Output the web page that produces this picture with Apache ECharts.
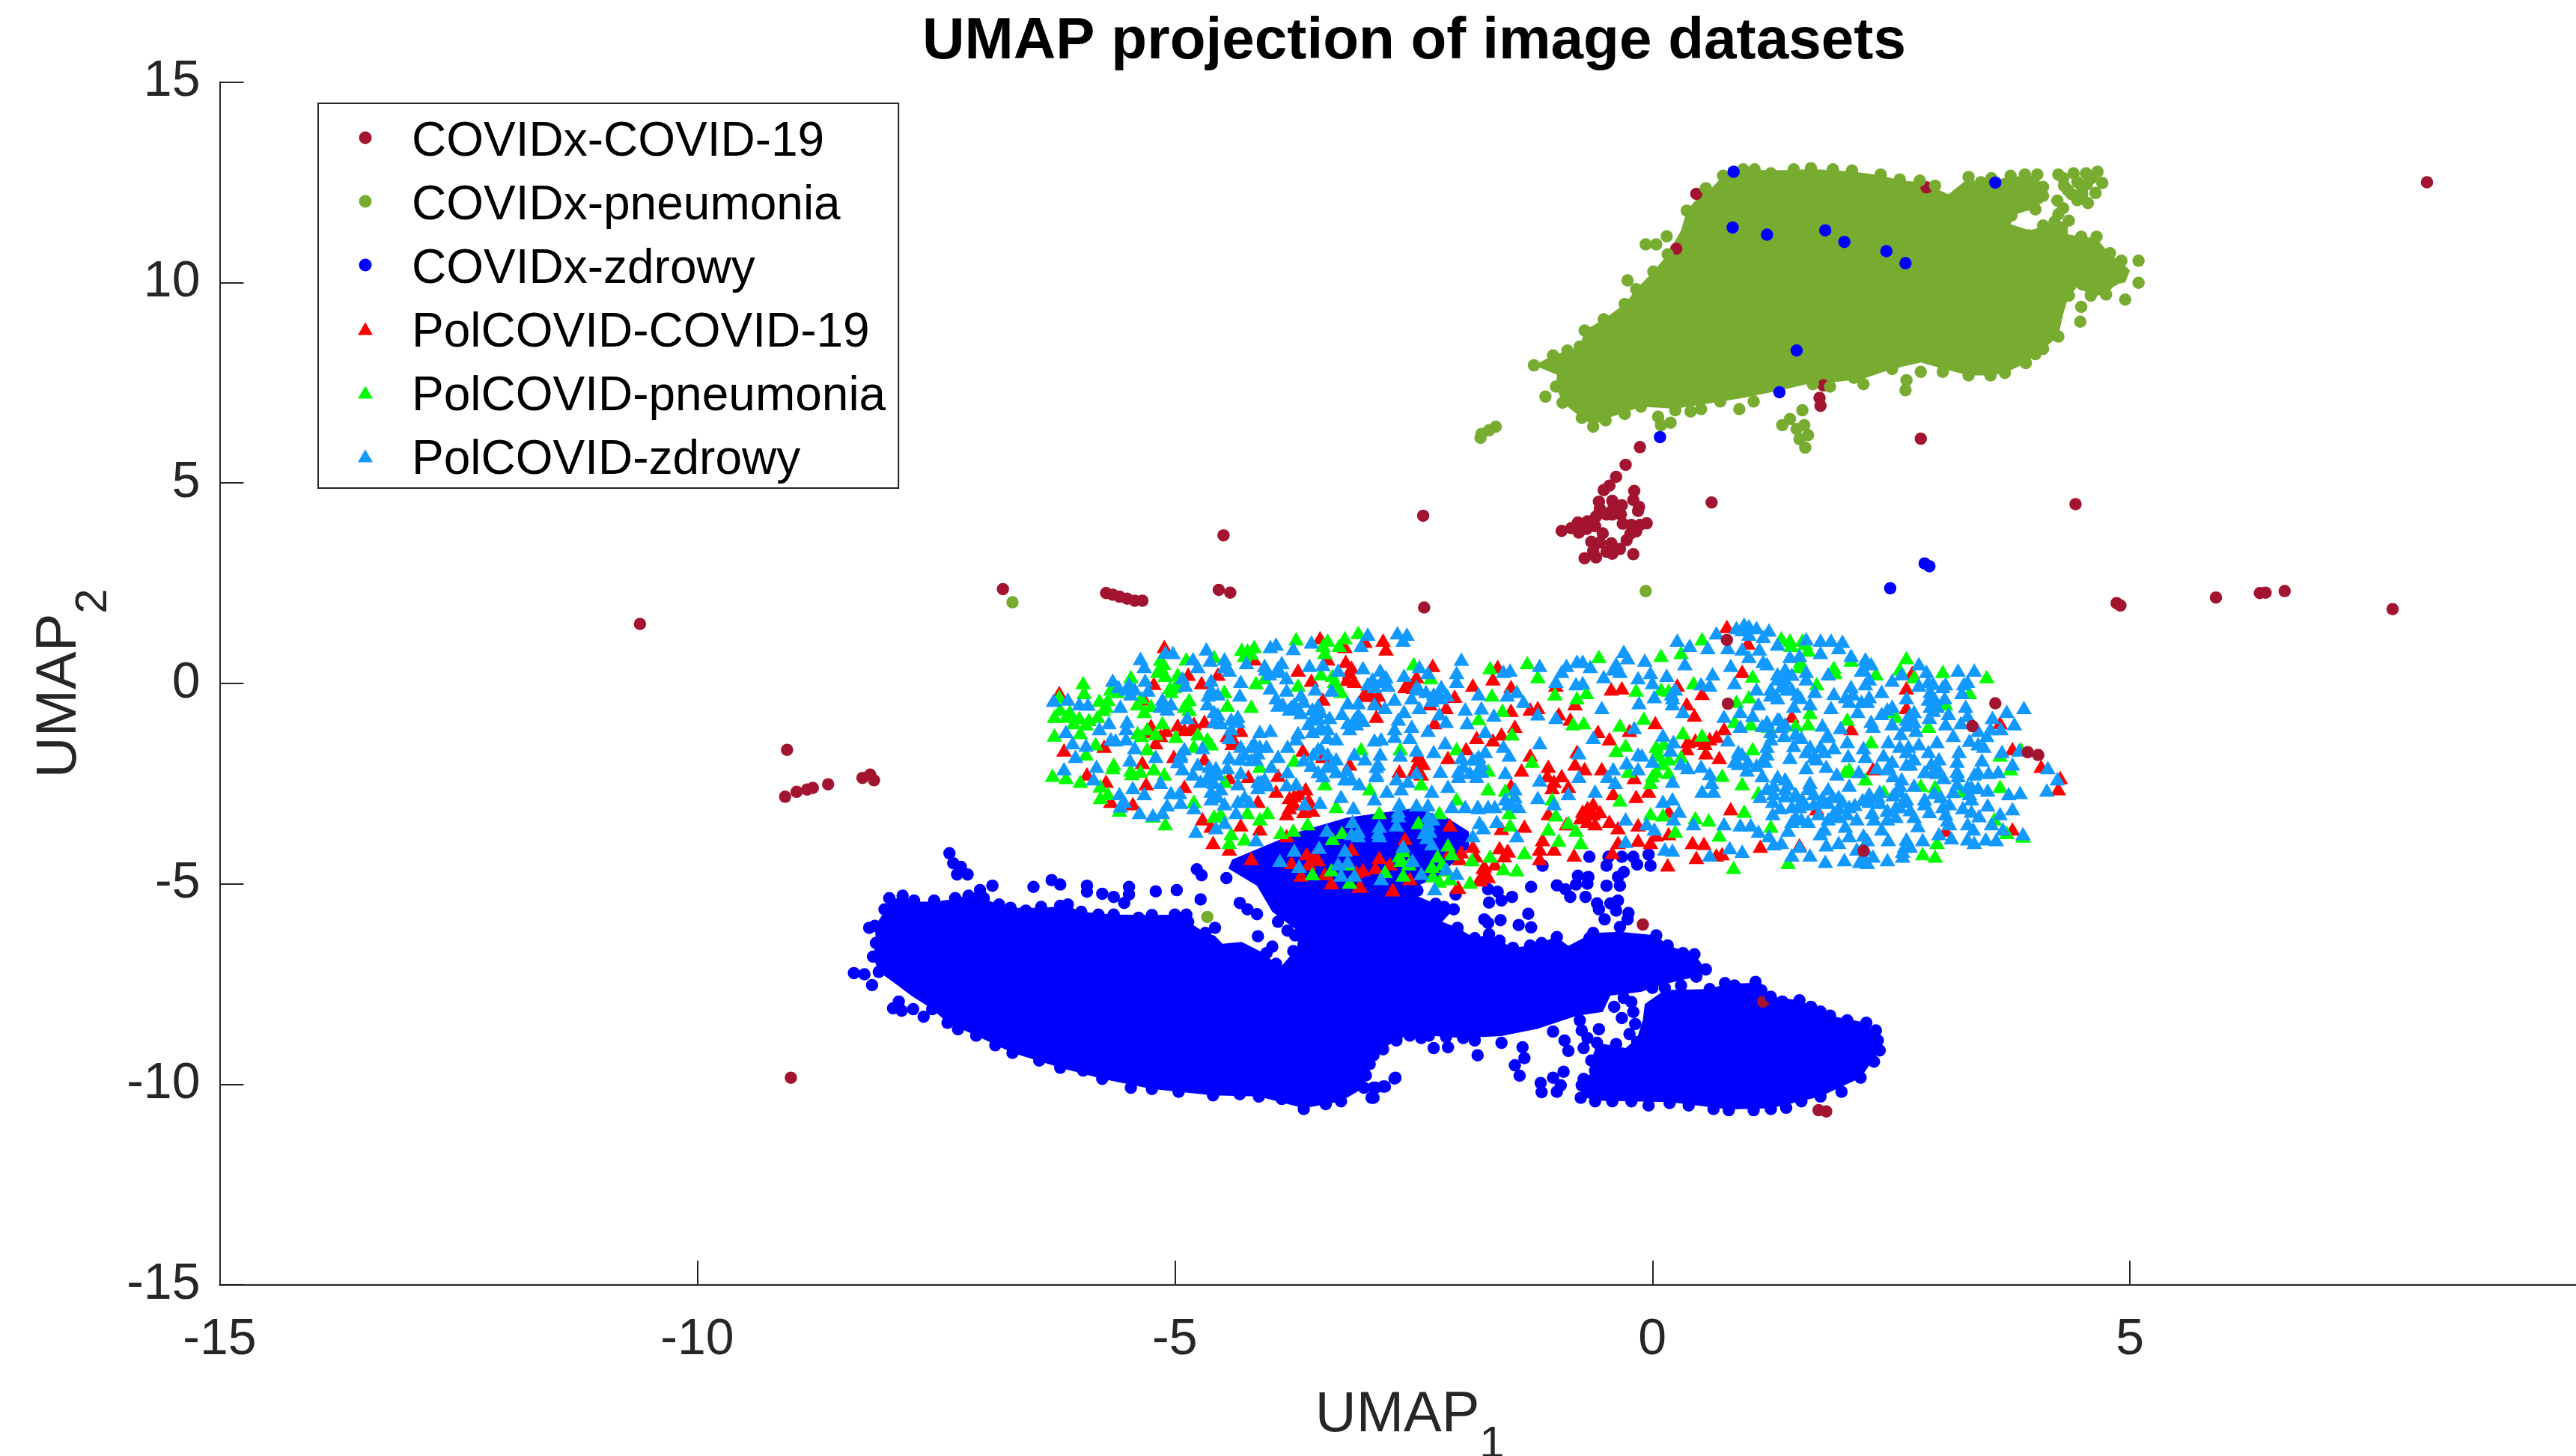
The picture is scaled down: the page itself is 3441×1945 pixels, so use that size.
<!DOCTYPE html>
<html>
<head>
<meta charset="utf-8">
<title>UMAP projection of image datasets</title>
<script src="https://cdn.jsdelivr.net/npm/echarts@6/dist/echarts.min.js"></script>
<style>
html,body{margin:0;padding:0;background:#fff;}
#main{width:3441px;height:1945px;}
</style>
</head>
<body>
<div id="main"></div>
<script>
var legendNames = ['COVIDx-COVID-19', 'COVIDx-pneumonia', 'COVIDx-zdrowy', 'PolCOVID-COVID-19', 'PolCOVID-pneumonia', 'PolCOVID-zdrowy'];
var xTicks = [-15, -10, -5, 0, 5];
var yTicks = [-15, -10, -5, 0, 5, 10, 15];

// maroon points that sit behind the other groups
var covidxCovid = [[.46,12.21],[2.87,12.37],[.25,10.84],[1.79,7.43],[1.75,7.12],[1.76,6.92],[1.16,-7.94]];
// maroon points that are visible on top
var covidxCovidTop = [[8.11,12.5],[2.81,6.1],[-.13,5.89],[-.28,5.45],[-.38,5.15],[-.45,4.93],[-.51,4.82],[-.56,4.53],[-.55,4.35],[-.42,4.55],[-.42,4.32],[-.32,4.44],[-.33,4.21],[-.19,4.8],[-.2,4.57],[-.14,4.4],[-.15,4.3],[-.59,4.16],[-.48,4.21],[-.42,4.21],[-.95,3.8],[-.85,3.87],[-.78,4.01],[-.77,3.92],[-.77,3.76],[-.68,4.04],[-.69,3.85],[-.6,3.92],[-.52,3.74],[-.31,3.98],[-.22,3.95],[-.13,3.95],[-.06,3.99],[-.17,3.79],[-.23,3.73],[-.27,3.57],[-.64,3.53],[-.55,3.51],[-.62,3.3],[-.71,3.12],[-.59,3.14],[-.43,3.49],[-.48,3.28],[-.42,3.23],[-.34,3.35],[-.2,3.22],
[-6.8,2.35],[-5.72,2.25],[-5.65,2.21],[-5.58,2.16],[-5.5,2.11],[-5.42,2.06],[-5.34,2.06],[-4.54,2.33],[-4.42,2.26],[-4.49,3.69],[-2.4,4.18],[-2.39,1.89],[-10.6,1.48],[-9.06,-1.66],[-9.08,-2.83],[-8.96,-2.71],[-8.85,-2.65],[-8.79,-2.61],[-8.63,-2.52],[-8.27,-2.36],[-8.19,-2.28],[-8.15,-2.42],[-9.02,-9.84],[.62,4.51],[4.43,4.47],[4.86,2],[4.9,1.94],[5.9,2.14],[6.36,2.25],[6.42,2.26],[6.62,2.3],[7.75,1.85],[-.1,-6.02],[1.74,-10.65],[1.82,-10.68],[.79,-.51],[3.59,-.5],[4.04,-1.79],[3.93,-1.72],[3.35,-1.07],[.78,1.08],[2.21,-4.18]];

// solid interiors of the over-plotted clouds, read as outlines
var greenCore = [[.6,12.3],[.74,12.66],[.95,12.8],[1.48,12.8],[1.66,12.83],[2.09,12.77],[2.39,12.67],[2.59,12.55],[2.8,12.5],[2.96,12.35],[3.1,12.2],[3.31,12.6],[3.44,12.48],[3.75,12.64],[4.03,12.67],[4.09,12.3],[4.09,12],[3.95,11.8],[3.8,11.7],[3.75,11.45],[3.95,11.3],[4.1,11.4],[4.2,11.55],[4.35,11.5],[4.35,11.2],[4.49,11.14],[4.65,11.1],[4.79,10.7],[4.91,10.5],[5,10.3],[4.95,10],[4.85,9.95],[4.75,9.7],[4.6,9.65],[4.45,9.9],[4.35,9.6],[4.3,9.2],[4.25,8.65],[4.09,8.34],[3.91,7.99],[3.69,7.74],[3.54,7.68],[3.31,7.68],[3.04,7.85],[2.81,8],[2.51,7.84],[2.21,7.6],[1.86,7.5],[1.68,7.5],[1.33,7.3],[.91,7.1],[.51,6.95],[.24,6.85],[-.12,6.9],[-.29,6.75],[-.49,6.6],[-.62,6.42],[-.74,6.62],[-.94,7],[-1.01,7.4],[-1,7.7],[-1.24,7.93],[-1.04,8.18],[-.76,8.4],[-.71,8.8],[-.51,9.08],[-.29,9.46],[-.17,9.83],[.01,10.27],[.16,10.7],[.3,11.3],[.36,11.79],[.56,12.35]];
var blueCoreLeft = [[-8.14,-6.05],[-8.04,-5.7],[-7.99,-5.4],[-7.85,-5.33],[-7.73,-5.45],[-7.52,-5.45],[-7.3,-5.38],[-7.04,-5.18],[-6.98,-5.4],[-6.72,-5.6],[-6.4,-5.6],[-6.12,-5.55],[-5.98,-5.7],[-5.64,-5.77],[-5.24,-5.78],[-4.88,-5.77],[-4.86,-5.95],[-4.68,-6.23],[-4.58,-6.3],[-4.5,-6.5],[-4.3,-6.45],[-4.08,-6.72],[-3.94,-7],[-3.9,-7.1],[-3.72,-6.6],[-3.7,-6.2],[-3.98,-5.7],[-4.14,-5.05],[-4.44,-4.62],[-4.4,-4.4],[-4.1,-4.1],[-3.7,-3.7],[-3.2,-3.35],[-2.5,-3.12],[-2.15,-3.35],[-1.92,-3.7],[-1.92,-4.1],[-2.25,-4.85],[-2.46,-5.05],[-2.52,-5.25],[-2.27,-5.5],[-2.18,-5.58],[-2.08,-5.64],[-2.2,-5.95],[-2.04,-6.1],[-1.86,-6.36],[-1.71,-6.26],[-1.6,-6.42],[-1.46,-6.6],[-1.28,-6.54],[-1,-6.33],[-.88,-6.55],[-.62,-6.23],[-.34,-6.2],[.04,-6.29],[.16,-6.54],[.44,-6.76],[.56,-7.14],[.46,-7.32],[.13,-7.5],[-.12,-7.7],[-.44,-7.79],[-.52,-8.2],[-.8,-8.3],[-1.2,-8.62],[-1.58,-8.8],[-2,-8.85],[-2.54,-8.75],[-2.82,-9.1],[-2.94,-9.25],[-3,-9.78],[-3.02,-10.09],[-3.26,-10.43],[-3.65,-10.6],[-4.12,-10.31],[-4.6,-10.28],[-5.24,-10.12],[-5.76,-9.87],[-6.2,-9.59],[-6.7,-9.22],[-7.08,-8.79],[-7.38,-8.47],[-7.54,-8.13],[-7.76,-7.79],[-7.95,-7.45],[-8.1,-7.2],[-8.16,-6.82],[-8.13,-6.48]];
var blueCoreRight = [[-.1,-8.4],[-.08,-8],[.13,-7.65],[.6,-7.63],[.76,-7.5],[1.08,-7.47],[1.24,-7.82],[1.54,-7.91],[1.86,-8.29],[2.24,-8.47],[2.36,-8.91],[2.38,-9.16],[2.18,-9.84],[1.76,-10.31],[1.24,-10.6],[.8,-10.63],[.18,-10.45],[-.6,-10.41],[-.75,-10.3],[-.72,-9.87],[-.6,-9.66],[-.64,-9.41],[-.58,-8.97],[-.28,-9.1],[-.16,-8.85]];

var covidxPneumonia = [[.74,12.66],[.95,12.82],[1.07,12.82],[1.24,12.72],[1.48,12.82],[1.66,12.85],[1.89,12.82],[2.09,12.79],[2.39,12.69],[2.59,12.57],[2.8,12.54],[2.96,12.41],[3.31,12.63],[3.44,12.5],[3.55,12.6],[3.75,12.66],[3.9,12.69],[4.03,12.69],[4.09,12.38],[4.09,12.16],[4.25,12.69],[4.31,12.41],[4.41,12.72],[4.54,12.72],[4.66,12.76],[4.71,12.48],[4.64,12.23],[4.56,11.98],[4.39,12.2],[4.24,12.04],[4.36,11.54],[4.21,11.51],[4.09,11.42],[4.01,11.82],[3.76,11.67],[3.79,12.07],[3.64,12.13],[3.64,11.51],[3.94,11.17],[4.49,11.14],[4.65,11.14],[4.79,10.73],[4.91,10.54],[5.09,10.54],[5.09,9.99],[4.95,9.57],[4.75,9.7],[4.59,9.67],[4.49,9.39],[4.48,9.02],[4.36,9.67],[4.25,8.65],[4.09,8.34],[4.01,8.21],[3.91,7.99],[3.69,7.74],[3.54,7.68],[3.31,7.68],[3.04,7.77],[2.81,7.77],[2.66,7.56],[2.65,7.31],[2.51,7.84],[2.21,7.46],[2.11,7.62],[1.86,7.4],[1.68,7.46],[1.06,7.03],[.91,6.84],[.71,7.03],[.51,6.84],[.4,6.78],[.24,6.81],[.06,6.65],[.19,6.5],[.09,6.44],[-.12,6.9],[-.29,6.72],[-.49,6.56],[-.62,6.4],[-.74,6.62],[-.94,7],[-1.12,7.15],[-1.01,7.4],[-1.24,7.93],[-1.04,8.18],[-.89,8.3],[-.76,8.4],[-.71,8.8],[-.51,9.08],[-.29,9.46],[-.26,10.05],[-.17,9.83],[.01,10.27],[.16,10.7],[-.07,10.95],[.04,10.95],[.15,11.15],[.36,11.79],[.56,12.35],[4.75,10.3],[4.82,10.05],[4.7,9.95],[4.9,10.2],[4.5,9.95],[4.3,12.6],[4.45,12.5],[4.55,12.45],[4.6,12.6],[4.5,12.2],[4.35,12.3],[4.5,12.35],[4.45,12.05],[4.25,11.7],[4.3,11.85],
[1.57,6.81],[1.36,6.44],[1.44,6.59],[1.51,6.34],[1.59,6.44],[1.63,6.19],[1.54,6.09],[1.6,5.88],[-1.64,6.4],[-1.71,6.31],[-1.79,6.22],[-1.8,6.12],[-6.7,2.02],[-.07,2.3],[-4.66,-5.83]];

var covidxZdrowy = [[.85,12.76],[3.59,12.49],[.84,11.37],[1.2,11.19],[1.81,11.3],[2.01,11.01],[2.45,10.78],[2.65,10.48],[1.51,8.3],[1.33,7.26],[.08,6.14],[2.85,2.99],[2.9,2.92],[2.49,2.37],
[-7.36,-4.24],[-7.32,-4.49],[-7.24,-4.58],[-7.28,-4.77],[-7.17,-4.77],[-6.91,-5.05],[-6.48,-5.08],[-6.29,-4.91],[-6.2,-5.02],[-5.92,-5.05],[-5.92,-5.2],[-5.76,-5.25],[-5.64,-5.33],[-5.48,-5.08],[-5.48,-5.27],[-5.53,-5.48],[-5.2,-5.19],[-4.98,-5.16],[-4.73,-5.39],[-4.77,-4.64],[-4.72,-4.79],[-4.46,-4.86],[-4.32,-5.48],[-4.24,-5.64],[-4.14,-5.76],[-3.92,-5.95],[-3.82,-6.17],[-3.74,-6.29],[-4.13,-6.31],[-3.98,-6.57],[-4.04,-6.73],[-3.76,-6.68],[-3.94,-7],[-4.58,-6.1],[-4.68,-6.23],
[-8.36,-7.23],[-8.25,-7.26],[-8.17,-7.53],[-8.16,-6.82],[-8.1,-7.2],[-8.2,-6.1],[-8.14,-6.05],[-8.13,-6.48],[-8.04,-5.64],[-7.99,-5.36],[-7.85,-5.3],[-7.96,-5.89],[-7.84,-5.8],[-7.73,-5.42],[-7.52,-5.42],[-7.3,-5.36],[-7.16,-5.3],[-7.04,-5.16],[-7,-5.36],[-6.84,-5.52],[-6.72,-5.6],[-6.56,-5.67],[-6.4,-5.58],[-6.2,-5.55],[-6.12,-5.52],[-5.98,-5.7],[-5.8,-5.77],[-5.64,-5.77],[-5.38,-5.85],[-5.24,-5.78],[-5,-5.77],[-4.88,-5.77],[-4.86,-5.95],
[-7.89,-7.94],[-7.95,-8.11],[-7.86,-8.17],[-7.74,-8.13],[-7.63,-8.32],[-7.54,-8.13],[-7.38,-8.47],[-7.27,-8.63],[-7.08,-8.79],[-6.88,-9.03],[-6.7,-9.22],[-6.42,-9.41],[-6.2,-9.59],[-6.1,-9.5],[-5.96,-9.66],[-5.76,-9.87],[-5.46,-10.09],[-5.24,-10.12],[-4.96,-10.19],[-4.6,-10.28],[-4.32,-10.25],[-4.12,-10.31],[-3.88,-10.37],[-3.65,-10.62],[-3.42,-10.5],[-3.26,-10.43],[-3.02,-10.09],[-2.92,-10.34],[-2.9,-10.09],[-2.8,-10.06],[-2.69,-9.84],[-2.92,-9.28],[-2.96,-9.5],[-3,-9.78],
[-1.15,-4.55],[-1.27,-5.08],[-1,-5.04],[-.91,-5.14],[-.86,-5.33],[-.78,-4.8],[-.67,-4.83],[-.8,-5.02],[-.68,-5],[-.7,-5.33],[-.58,-5.49],[-.56,-5.64],[-.44,-5.49],[-.36,-5.42],[-.34,-5.05],[-.36,-4.83],[-.48,-5.05],[-.66,-4.33],[-.48,-4.55],[-.46,-4.33],[-.32,-4.33],[-.2,-4.33],[-.04,-4.27],[-.02,-4.55],[-.16,-4.52],[-.3,-4.71],[-.38,-5.67],[-.25,-5.73],[-.26,-5.89],[-.5,-5.89],[-.34,-6.08],[-.62,-6.23],[-.66,-6.36],[-.48,-6.39],[-1,-6.33],[-1.16,-6.48],[-1.28,-6.54],[-1.6,-6.42],[-1.46,-6.6],[-1.71,-6.26],[-1.86,-6.36],[-2.04,-6.1],[-2.16,-6.23],[-1.76,-5.89],[-1.72,-5.98],[-1.59,-5.91],[-1.3,-5.75],[-1.4,-6.03],[-1.27,-6.09],[-2.08,-5.64],[-2.18,-5.58],[-2.27,-5.5],[-2.06,-5.27],[-1.72,-5.14],[-1.71,-5.47],[-1.62,-5.2],[-1.58,-5.42],[-1.47,-5.33],[-2.46,-5.17],[-2.52,-5.33],
[.04,-6.29],[.16,-6.54],[.32,-6.73],[.44,-6.76],[.56,-7.14],[.46,-7.32],[.3,-7.54],[.13,-7.6],[.6,-7.63],[.76,-7.48],[.86,-7.54],[1.08,-7.45],[1.14,-7.66],[1.24,-7.82],[1.36,-7.94],[1.54,-7.91],[1.66,-8.07],[1.76,-8.19],[1.86,-8.29],[2.04,-8.41],[2.24,-8.47],[2.34,-8.66],[2.36,-8.91],[2.38,-9.16],[2.32,-9.44],[2.18,-9.84],[1.98,-10.19],[1.76,-10.31],[1.56,-10.43],[1.4,-10.59],[1.24,-10.62],[1.06,-10.65],[.8,-10.65],[.64,-10.62],[.38,-10.53],[.18,-10.47],[-.04,-10.53],[-.22,-10.43],[-.42,-10.43],[-.6,-10.43],[-.75,-10.34],[-.74,-10.03],[-.72,-9.87],[-.93,-9.69],[-1.04,-9.84],[-.96,-10.03],[-1,-10.19],[-1.17,-9.97],[-1.16,-10.2],[-1.39,-9.79],[-1.44,-9.53],[-1.34,-9.35],[-1.36,-9.08],[-1.83,-9.28],[-2.29,-9.1],[-2.14,-9.08],[-2.7,-9.86],[-.88,-9.17],[-.92,-8.91],[-.72,-9.1],[-.56,-8.63],[-1.04,-8.69],[-1.58,-8.97],[-1.86,-8.91],[-1.98,-8.85],[-2.16,-8.82],[-2.34,-8.79],[-2.42,-8.85],[-2.54,-8.79],[-2.68,-8.91],[-2.82,-9.13],[-2.94,-9.28],[-3.02,-9.56],[-2.92,-10.09],[-2.82,-10.06],[-2.94,-10.34],[-.58,-8.97],[-.64,-9.41],[-.6,-9.66],[0,-7.6],[-.4,-8.07],[-.32,-8.35],[-.76,-8.41],[-.74,-8.66],[-.68,-8.85],[-.3,-7.85],[.5,-7.94],[.62,-8.13],[-.22,-7.95],[-.2,-8.2],[-.18,-8.5],[-.24,-8.75],[-.38,-9],[-.16,-8.95]];

var polCovid = [[-6.21,-.23],[-6.16,-1.66],[-5.32,-.39],[-5.22,0],[-5.11,.92],[-4.86,.23],[-4.72,.02],[-4.55,.23],[-4.17,.61],[-3.48,1.14],[-3.22,.92],[-3.01,1.05],[-2.82,1.08],[-2.79,.86],[-3.21,.55],[-3.17,.27],[-3.4,.61],[-3.71,.33],[-3.57,.08],[-3.12,.05],[-3.01,-.23],[-2.87,-.29],[-2.89,-.82],[-3.45,-.39],[-2.59,-.08],[-2.47,.17],[-2.3,.45],[-2.07,-.32],[-1.88,-.04],[-1.67,.11],[-1.62,.42],[-1.48,-.08],[-1.48,-.67],[-2.16,-.6],[-2.33,-.51],[-2.28,-.98],[-1.44,-1.07],[-1.28,-.64],[-1.58,-1.26],[-1.67,-1.41],[-1.84,-1.35],[-1.95,-1.63],[-2.14,-1.85],[-2.45,-1.94],[-2.47,-2.07],[-2.42,-2.26],[-2.65,-2.19],[-1.37,-2.16],[-1.28,-1.79],[-1.48,-2.54],[-3.75,-3],[-3.63,-2.63],[-3.8,-2.85],[-3.94,-2.69],[-3.56,-3.16],[-3.83,-3.25],[-4.13,-2.94],[-4.23,-2.32],[-4.43,-2.35],[-3.92,-2.29],[-3.17,-2.01],[-3.45,-1.82],[-3.66,-1.66],[-4.31,-1.17],[-4.39,-1.38],[-4.69,-.95],[-4.83,-1.13],[-4.97,-1.04],[-5.09,-1.17],[-5.2,-1.48],[-5.29,-1.2],[-4.69,-1.88],[-5.01,-1.82],[-5.34,-1.97],[-5.74,-1.57],[-5.92,-2.26],[-5.72,-2.44],[-5.3,-2.5],[-4.9,-2.57],[-5.67,-2.94],[-5.44,-3],[-4.71,-3.38],[-4.62,-3.56],[-4.31,-3.53],[-4.11,-3.63],[-4.6,-3.97],[-4.43,-4.13],[-3.83,-3.8],[-4.2,-4.37],[-3.78,-4.47],[-3.62,-4.25],[-3.55,-4.31],[-3.68,-4.78],[-3.43,-4.75],[-3.36,-4.97],[-3.15,-4.13],[-3.03,-4.65],[-3.07,-5.06],[-2.86,-4.34],[-2.72,-5.15],[-2.54,-4.87],[-2.59,-3.87],[-2.12,-3.53],[-2.12,-4.19],[-1.88,-4.06],[-2.02,-4.37],[-2.03,-5.09],[-1.79,-4.82],[-1.72,-4.82],[-1.77,-4.59],[-1.51,-4.18],[-1.34,-3.56],[-1.58,-3.62],
[.78,1.42],[1,1.01],[.94,.3],[.26,-.04],[.52,-.25],[-.43,-.14],[-.32,-.11],[-1.01,-.04],[-.81,-.51],[.36,-.51],[.44,-.79],[-1.2,-.6],[-.98,-.76],[-.86,-.89],[-.57,-1.2],[-.45,-1.38],[-.24,-1.17],[.03,-.98],[.75,-1.13],[.67,-1.32],[.6,-1.38],[.45,-1.41],[.37,-1.45],[.36,-1.63],[.56,-1.73],[.7,-1.85],[-.79,-1.7],[-.81,-2.01],[-.71,-2.13],[-1.09,-2.07],[-.53,-2.13],[-.19,-2.35],[-1.03,-2.44],[-.88,-2.57],[-.41,-2.75],[-.17,-2.82],[-.04,-2.69],[-.68,-3.1],[-.73,-3.19],[-.62,-3.25],[-.68,-3.44],[-.45,-3.44],[-1.09,-3.25],[.17,-3.19],[-.15,-3.53],[-.36,-3.6],[.17,-3.75],[.04,-3.78],[-.15,-3.91],[-.02,-3.97],[-.36,-3.97],[.42,-3.97],[.54,-3.99],[.46,-4.34],[.67,-4.28],[.73,-4.25],[.16,-4.53],[-.42,-4.22],[-.82,-4.28],[-1.03,-4.13],[-1.18,-4.13],[-1.18,-4.37],[1.13,-4.06],[1.54,-4.03],[.82,-3.13],[2.31,-2.13],[2.08,-1.13],[1.46,-.82],[2.66,-.11],[2.66,-.6],[2.72,.27],[3.64,-.98],[3.77,-1.63],[4.25,-2.63],[4.27,-2.35],[4.07,-2.07],[3.77,-3.63],[1.72,-3.13],[3.07,-3.66],[-1.8,-4.83],[-1.76,-4.55],[-2.04,-5.08],[-2.72,-5.14],[-1.52,-4.18],[-3.06,-5.05],
[-2.45,-1.8],[-2.4,-2],[-2.5,-2.2],[-3.7,-2.75],[-3.75,-2.8],[-3.6,-2.9],[-3.8,-3.1],[-3.65,-3.2],[-3,-.3],[-2.95,-.25],[-2.9,-.45],[-3.15,.4],[-3.2,.1],[-2.55,0],[-2.5,-.1],[-4.4,-1.5],[-4.45,-1.3],[-4.8,-1],[-4.9,-1.15],[-5.25,-1.05],[-5.15,-1.3],[-1.75,-4.7],[-1.8,-4.9],[-1.65,-4.5],[-1.55,-4.3],[-2.75,-4.5],[-2.9,-4.6],[-3.5,-4.4],[-3.6,-4.5],[-1.85,-4.3],[-2,-4.2],[-1.6,-4.1],[-3.1,-4.7],[-.62,-3],[-.75,-3.35],[-.6,-3.5],[-.55,-3.2],[-1.05,-2.6],[-.95,-2.3],[-1.1,-2.3],[-.9,-3.5],[.55,-1.5],[.5,-1.42],[-1.15,-3.9]];

var polPneumonia = [[-5.96,.02],[-6.21,-.32],[-6.2,-.64],[-6.26,-.82],[-6.14,-.82],[-6.06,-.98],[-5.93,-1.01],[-6.26,-1.29],[-5.99,-1.23],[-5.93,-1.76],[-5.83,-1.51],[-6.28,-2.29],[-6.14,-2.35],[-5.99,-2.44],[-5.79,-.42],[-5.72,-.57],[-5.81,-.82],[-5.67,-.14],[-5.46,.17],[-5.95,-.23],[-5.39,-.51],[-5.32,-.7],[-5.39,-1.23],[-5.29,-1.13],[-5.13,-.98],[-5.29,-1.63],[-4.99,-1.32],[-4.76,-1.26],[-4.66,-1.38],[-4.62,-1.51],[-4.8,-1.57],[-4.9,-.57],[-5.15,.42],[-5.15,.6],[-5.18,.3],[-5,-.08],[-5.04,-.2],[-4.97,.23],[-4.88,.61],[-4.59,.67],[-4.17,.92],[-4.24,.83],[-4.27,.7],[-4.15,.02],[-4.06,.14],[-4.48,-.2],[-4.45,-.54],[-4.2,-.57],[-3.71,-.04],[-3.73,1.11],[-3.4,1.08],[-3.28,.95],[-3.22,1.14],[-3.08,1.27],[-3.43,.77],[-3.26,-.2],[-3.33,.05],[-3.47,.24],[-2.5,.49],[-2.32,.14],[-1.7,.39],[-1.31,.52],[-1.68,-.29],[-1.57,-.67],[-1.82,-.88],[-1.47,-1.26],[-2.05,-1.63],[-2.64,-1.63],[-3.05,-1.63],[-3.75,-1.92],[-4.11,-2.07],[-5.22,-2.13],[-5.64,-2.01],[-5.46,-2.16],[-5.36,-2.19],[-5.11,-2.26],[-5.78,-2.56],[-5.78,-2.85],[-5.58,-3.16],[-5.23,-3.31],[-5.1,-3.5],[-4.8,-2.94],[-4.48,-2.44],[-4.52,-3.25],[-4.59,-3.31],[-4.24,-3.22],[-4.11,-3.38],[-4.03,-3.22],[-4.41,-3.75],[-4.43,-3.97],[-4.27,-3.88],[-3.89,-3.72],[-3.76,-3.66],[-3.61,-3.5],[-3.43,-2.5],[-3.31,-3.07],[-2.86,-3.22],[-2.96,-2.63],[-2.42,-2.5],[-2.45,-3.47],[-2.23,-3.22],[-3.35,-3.87],[-3.25,-3.72],[-3.56,-4.75],[-3.36,-4.65],[-3.19,-4.5],[-3.17,-4.96],[-2.8,-4.69],[-2.61,-4.17],[-2.63,-4.41],[-2.61,-4.78],[-2.25,-4.31],[-2.31,-4.56],[-2.14,-4.03],[-2.1,-4.25],[-2.23,-4.93],[-2.12,-4.87],[-1.91,-4.96],[-1.89,-4.4],[-1.7,-4.31],[-1.56,-4.62],[-1.42,-4.65],[-1.34,-4.22],[-1.49,-3.53],[-1.54,-2.66],[-1.72,-2.63],[-1.72,-2.16],[-1.26,-1.94],[-2.05,-2.88],[-1.5,-3.22],
[-.56,.67],[.09,.7],[-1.2,.17],[-.69,-.23],[-.79,-.36],[-1.02,-.26],[-.17,-.17],[.09,-.14],[.17,-.17],[.43,.02],[.3,.77],[.52,1.11],[.88,-.45],[1.05,.18],[1.01,-.33],[1.35,1.14],[1.44,1.08],[1.57,1.08],[1.63,.83],[1.54,.42],[1.91,.27],[2.08,.58],[1.72,-.01],[2.34,.24],[2.66,.64],[2.59,.36],[2.74,.17],[3.04,.3],[3.5,.17],[3.32,-.23],[3.07,-.51],[2.89,-1.07],[2.55,-.82],[2.46,-.7],[2.04,-.89],[1.65,-.73],[1.5,-1.04],[1.63,-1.01],[1.03,-1.01],[.86,-.95],[-.34,-1.04],[-.09,-.87],[-.83,-1.01],[-.72,-.98],[.52,-1.29],[.32,-1.23],[-.38,-1.67],[-.28,-1.54],[.04,-1.57],[.06,-1.79],[.3,-1.82],[.17,-1.88],[.04,-2.19],[.17,-2.22],[-.02,-2.47],[.73,-2.29],[.94,-2.5],[-.25,-2.19],[-.34,-2.91],[-1.05,-2.88],[-1.01,-3.28],[-.02,-3.25],[.11,-3.28],[.45,-3.35],[.59,-3.41],[-.88,-3.47],[-.8,-3.66],[-1.09,-3.63],[-.98,-3.91],[-.75,-3.97],[.24,-3.69],[.7,-3.78],[.85,-4.59],[.96,-3.19],[1.24,-3.56],[1.11,-2.72],[1.05,-1.63],[1.22,-1.07],[2.06,-2.13],[2.23,-2.38],[2.29,-1.45],[2.42,-2.69],[2.81,-2.54],[2.96,-2.57],[3.24,-2.69],[3.64,-2.57],[3.75,-2.13],[3.86,-1.63],[3.64,-1.79],[3.58,-3.38],[3.71,-3.72],[3.88,-3.81],[2.98,-3.97],[2.83,-4.25],[2.96,-4.31],[1.42,-4.47],[2.02,-2.19],
[-6.1,-.7],[-6,-.85],[-5.9,-.9],[-5.75,-.65],[-5.7,-.4],[-5.6,-.2],[-5.35,-.35],[-5.25,-.55],[-5.2,-1.25],[-5.35,-1.3],[-5.12,.5],[-5.1,.2],[-4.95,.05],[-4.85,-.4],[-4.85,-.65],[-5.05,-.1],[-4.3,.85],[-4.2,.75],[-5.65,-2.1],[-5.7,-2.75],[-5.45,-2.25],[-3.3,-.05],[-3.35,.2],[-3.45,.95],[-2.65,-4.3],[-2.55,-4.5],[-2.2,-4.5],[-2.15,-4.65],[-2.3,-4.8],[.05,-1.7],[.1,-2],[0,-2.3],[.12,-1.5],[1.6,1],[1.55,.55],[1.9,.4],[1.45,.95]];

var polZdrowy = [[-6.27,-.42],[-6.12,-.39],[-6,-.51],[-5.91,-.52],[-5.65,.08],[-5.51,-.14],[-5.42,-.14],[-5.57,-.57],[-5.31,.08],[-5.28,-.17],[-5.36,.62],[-5.32,.42],[-5.1,.78],[-5.02,.77],[-4.92,.14],[-4.89,-.04],[-5.13,-.39],[-5.15,-.57],[-5.04,-.51],[-4.81,.61],[-4.76,.42],[-4.67,.86],[-4.63,.58],[-4.48,.61],[-4.43,.33],[-4.62,.08],[-4.65,-.29],[-4.55,-.26],[-4.31,.05],[-4.25,.52],[-4.32,-.29],[-4,.92],[-3.94,.98],[-3.76,.87],[-4.05,.36],[-3.88,.52],[-3.92,.3],[-3.83,.14],[-4,-.11],[-3.83,-.17],[-3.94,-.36],[-3.68,-.29],[-3.53,-.14],[-3.36,-.17],[-3.57,1.03],[-2.98,1.23],[-2.67,1.26],[-2.57,1.23],[-3.05,.95],[-2.61,1.08],[-3.45,.47],[-3.59,.45],[-3.29,.33],[-3.03,.39],[-2.85,.33],[-2.84,.05],[-2.98,-.01],[-2.6,.2],[-2.44,.42],[-2.35,.27],[-2.05,.27],[-2,.6],[-2.05,.05],[-2.47,-.08],[-2.21,-.08],[-2.29,-.26],[-1.82,-.26],[-2.7,-.39],[-2.52,-.36],[-2.31,-.42],[-2.15,-.29],[-1.56,.3],[-1.49,.33],[-1.42,-.2],[-1.52,-.29],[-1.35,-.45],[-1.96,-.64],[-1.79,-.61],[-1.66,-.79],[-3.08,-.48],[-2.91,-.51],[-2.8,-.6],[-3.19,-.48],[-3.5,-.54],[-3.78,-.57],[-3.92,-.54],[-3.71,-.64],[-3.5,-.85],[-3.38,-.85],[-3.12,-.89],[-3.03,-.92],[-3.17,-1.13],[-2.66,-.89],[-2.44,-.6],[-2.52,-1.07],[-2.35,-1.17],[-2.23,-.76],[-2.16,-.95],[-1.94,-.98],[-2.7,-1.13],[-2.84,-1.38],[-2.91,-1.41],[-2.54,-1.35],[-2.7,-1.32],[-2.17,-1.48],[-2.29,-1.7],[-2.47,-1.66],[-2.64,-1.79],[-1.56,-1.57],[-1.5,-1.79],[-1.75,-1.2],[-2,-1.85],[-1.75,-1.7],[-1.84,-1.88],[-1.79,-2.01],[-3.12,-1.76],[-3.01,-1.88],[-2.85,-1.76],[-2.87,-2.01],[-3.31,-1.38],[-3.4,-1.35],[-3.48,-1.13],[-3.71,-1.23],[-4,-1.17],[-4.11,-1.2],[-4.34,-.82],[-4.59,-.7],[-4.52,-.98],[-4.41,-1.13],[-4.87,-.85],[-5.5,-.95],[-5.51,-1.13],[-5.69,-.98],[-5.79,-1.13],[-6.14,-1.2],[-6.07,-1.48],[-5.93,-1.54],[-5.62,-1.41],[-5.51,-1.38],[-5.42,-1.6],[-6.04,-1.82],[-6.16,-2.13],[-5.82,-2.07],[-5.47,-1.91],[-5.2,-1.82],[-4.94,-1.76],[-4.92,-2.13],[-4.71,-1.6],[-4.43,-1.85],[-4.32,-1.88],[-4.31,-1.57],[-4.17,-1.48],[-4.13,-1.73],[-4.04,-1.57],[-3.92,-1.82],[-3.82,-1.57],[-3.73,-1.38],[-3.55,-1.76],[-3.47,-1.63],[-3.36,-2.01],[-3.57,-2.04],[-3.82,-2.2],[-3.99,-2.07],[-4.31,-2.22],[-4.45,-2.1],[-4.64,-2.07],[-4.57,-2.1],[-4.76,-2.01],[-4.81,-2.26],[-4.65,-2.38],[-5.15,-2.47],[-5.04,-2.72],[-4.95,-2.72],[-5.44,-2.6],[-5.32,-2.75],[-5.58,-2.75],[-5.53,-2.94],[-5.85,-2.38],[-5.57,-3.06],[-5.37,-3.22],[-5.23,-3.28],[-5.13,-3.22],[-5.08,-3.03],[-4.94,-2.97],[-4.8,-3.1],[-4.78,-3.69],[-4.57,-3.6],[-4.48,-3.47],[-4.62,-2.88],[-4.48,-3],[-4.52,-2.63],[-4.34,-2.5],[-4.36,-3.22],[-4.34,-2.94],[-4.22,-2.94],[-4.13,-2.44],[-4.03,-2.53],[-3.83,-2.53],[-3.73,-2.5],[-3.48,-2.97],[-3.64,-3],[-3.26,-2.82],[-3.13,-3.1],[-3.22,-2.38],[-3.15,-2.38],[-2.89,-2.3],[-3.07,-2.5],[-2.78,-2.69],[-2.63,-2.63],[-2.68,-2.38],[-2.56,-2.44],[-2.47,-2.22],[-2.22,-2.19],[-2.14,-2.57],[-2.03,-2.19],[-1.91,-2.22],[-1.82,-2.13],[-1.44,-2.63],[-1.54,-2.88],[-1.54,-2.22],[-1.83,-3.07],[-1.96,-3.07],[-1.72,-3.07],[-1.47,-3],[-1.4,-3.07],[-2.31,-2.69],[-2.47,-3.03],[-2.35,-3.03],[-2.1,-3.07],[-2.65,-3],[-2.91,-2.88],
[-3.14,-3.44],[-2.86,-3.56],[-2.66,-3.19],[-2.68,-3.53],[-2.35,-3.5],[-2.3,-3.38],[-2.86,-3.8],[-3.08,-3.8],[-3.15,-3.75],[-3.41,-3.66],[-3.75,-4.16],[-3.49,-4.09],[-3.22,-4.16],[-3.9,-4.41],[-3.7,-4.56],[-3.29,-4.5],[-3.19,-4.44],[-3.26,-4.78],[-2.84,-4.87],[-3.12,-4.78],[-2.51,-4.41],[-2.61,-4.06],[-2.31,-4],[-2.42,-4.74],[-2.16,-4.62],[-2.05,-4.74],[-2.28,-5.12],[-2.39,-3.72],[-1.88,-3.8],[-1.77,-3.6],[-1.63,-3.44],[-1.81,-3.47],[-1.42,-3.8],[-4.15,-3.9],
[-1.18,.45],[-.79,.55],[-.73,.55],[-.65,.42],[-.3,.8],[-.26,.64],[-.39,.42],[-.51,.17],[-1.01,.05],[-.8,-.01],[-.73,.02],[-.08,.58],[.34,.49],[.26,1.08],[.39,.95],[.58,.89],[.67,1.26],[.88,1.39],[.96,1.48],[1.09,1.39],[1.22,1.33],[.79,.89],[1.01,1.23],[1.12,.86],[1.31,.98],[1.61,1.11],[1.76,1.08],[1.87,1.08],[1.99,1.05],[1.95,.89],[2.08,.7],[2.23,.61],[2.29,.49],[2.19,.33],[2.27,.11],[1.84,.24],[1.61,.11],[1.44,.67],[1.54,.7],[1.76,.77],[1.2,.49],[.82,.45],[1.39,.36],[1.31,.11],[1.41,-.14],[1.24,-.14],[1.09,-.14],[.86,.02],[.63,.24],[.6,-.04],[.51,-.01],[.15,.2],[-.02,.27],[-.15,.14],[0,.02],[.02,-.33],[.2,-.26],[.21,-.51],[-.53,-.6],[-.14,-.48],[-1.01,-.85],[-1.2,-.76],[.32,-.7],[.75,-.82],[.92,-.7],[.79,-1.41],[.92,-1.07],[1.11,-.51],[1.2,-.95],[1.33,-.89],[1.35,-1.07],[1.48,-.57],[1.65,-.51],[1.87,-.6],[2.02,-.33],[2.06,-.45],[2.25,-.45],[2.4,-.2],[2.51,.08],[2.61,.24],[2.79,.49],[2.87,.3],[2.79,-.04],[2.94,0],[3.04,-.08],[3.2,.33],[3.37,.33],[3.3,.05],[3.24,-.23],[3.06,-.36],[2.89,-.39],[2.66,-.36],[3.28,-.57],[2.51,-.57],[2.46,-.64],[2.74,-.7],[2.94,-.67],[2.66,-.89],[2.51,-1.01],[2.29,-.95],[2.31,-1.07],[1.97,-1.1],[1.78,-1.04],[1.84,-1.29],[2.76,-1.17],[3.07,-1.01],[3.23,-.98],[3.41,-1.17],[3.54,-1.13],[3.65,-1.13],[3.56,-.85],[3.71,-.7],[3.79,-1.01],[3.89,-.6],[3.32,-1.42],[3.47,-1.57],[3.41,-1.51],[3.66,-1.7],[3.84,-1.66],[3.77,-2.01],[3.45,-1.91],[3.62,-2.2],[3.52,-2.22],[3.37,-2.26],[4.14,-2.1],[4.24,-2.38],[4.13,-2.66],[2.98,-1.45],[2.79,-1.51],[2.68,-1.57],[2.59,-1.57],[2.47,-1.45],[2.42,-1.79],[2.21,-1.6],[2.23,-1.82],[2.04,-1.45],[1.82,-1.32],[1.76,-1.57],[1.72,-1.88],[1.61,-1.7],[1.56,-1.35],[1.24,-1.38],[1.2,-1.76],[1.18,-1.94],[1.44,-1.85],[.9,-1.7],[.86,-1.94],[.99,-2.16],[1.09,-2.04],[1.61,-2.1],[1.82,-2.07],[1.93,-2.26],[2.16,-2.2],[2.47,-2.07],[2.7,-2.01],[2.74,-1.88],[2.98,-2.07],[3.21,-1.7],[3.19,-1.94],[2.98,-2.22],[2.61,-2.38],[2.74,-2.54],[2.59,-2.54],[2.38,-2.69],[2.27,-2.75],[2.06,-2.54],[1.84,-2.63],[1.65,-2.47],[1.31,-2.32],[1.27,-2.54],[1.42,-2.5],[1.5,-2.8],[1.39,-2.8],[1.13,-2.82],[1.69,-2.75],[1.95,-2.82],[2.06,-3.07],[1.84,-2.97],[1.74,-3.25],[1.5,-3.32],[1.54,-3.07],[1.26,-3.25],[2.27,-2.94],[2.38,-2.97],[2.46,-3.16],[2.66,-2.88],[2.59,-3.07],[2.85,-2.88],[3.02,-2.82],[3.11,-3],[3.19,-2.5],[3.3,-2.57],[3.41,-2.6],[3.51,-2.66],[3.34,-2.88],[3.51,-3.03],[3.34,-3.19],[3.64,-3.25],[3.73,-2.75],[3.85,-2.72],[3.77,-3.13],[3.09,-3.41],[3.3,-3.5],[3,-3.75],[3.13,-3.85],[3.37,-3.97],[3.49,-3.88],[3.6,-3.9],[3.67,-3.63],[3.88,-3.75],[2.83,-3.9],[2.64,-4.06],[2.47,-3.9],[2.4,-3.63],[2.74,-3.32],[2.14,-3.38],[2.32,-3.38],[2.21,-3.78],[2.25,-3.9],[2.06,-3.8],[1.95,-3.97],[1.76,-3.75],[1.82,-4.03],[1.65,-4.28],[1.81,-4.44],[2.01,-4.4],[2.25,-4.47],[2.46,-4.4],[2.62,-4.19],[2.17,-4.44],[1.46,-4.28],[1.42,-3.66],[1.56,-3.38],[1.63,-3.44],[1.35,-3.97],[1.27,-4],[1.54,-4.06],[1.22,-3.8],[1.11,-3.69],[1.03,-3.53],[.92,-3.53],[1.26,-2.94],[.75,-3.5],[.43,-3.5],[.22,-3.38],[.28,-3.19],[.21,-2.88],[.11,-2.94],[.64,-2.69],[.52,-2.69],[.62,-2.47],[.6,-2.25],[.51,-2.07],[.37,-2.1],[.3,-2],[.21,-2.44],[-.15,-2.13],[-.27,-1.98],[0,-1.94],[-.11,-1.79],[-.41,-2.13],[-.47,-2.32],[-.39,-2.47],[-.77,-2.32],[-.6,-2.69],[-.88,-2.75],[-1.18,-2.41],[-1.2,-2.85],[-1.03,-3],[-.28,-3.38],[.02,-3.63],[-.06,-3.5],[-.28,-3.94],[.13,-4.13],[.21,-4.16],[.6,-4.28],[.81,-4.1],[.94,-4.19],[.11,-1.29],[.22,-1.45],[.19,-1.66],[-.15,-1.76],[-.77,-1.73],[-.62,-1.35],[-.19,-1.1],[-1.18,-1.48],
[-5.59,-.08],[-5.48,-.01],[-5.46,-.26],[-3.87,-.51],[-3.8,-.64],[-3.75,-.51],[-3.68,-.73],[-3.56,-.64],[-3.47,-.7],[-3.56,-.89],[-3.47,-1.07],[-3.56,-1.2],[-3.4,-1.13],[-2.93,.11],[-2.79,.17],[-2.91,-.08],[-2.77,-.04],[-3.1,-1.01],[-3.08,-.76],[-3.19,-.98],[-2.44,-.14],[-2.37,-.2],[-2.24,-.23],[-2.21,-.36],[-4.2,-1.57],[-4.11,-1.57],[-4.15,-1.88],[-4.27,-1.76],[-3.5,-1.63],[-3.4,-1.76],[-3.31,-1.88],[-3.41,-2.07],[-3.5,-2.2],[-3.31,-2.2],[-2.89,-2.07],[-2.89,-2.26],[-1.88,-1.88],[-1.79,-2.19],[-1.84,-2.32],[-2.03,-2.32],[-1.98,-2.07],[-1.82,-1.82],[-4.64,-2.26],[-4.55,-2.26],[-4.73,-2.44],[-4.59,-2.47],[-4.1,-2.44],[-4.13,-2.6],[-4.06,-2.38],[-4.94,-1.82],[-4.97,-1.95],[-4.9,-1.63],[-4.62,-2.69],[-4.55,-2.82],[-4.27,-2.82],[-1.44,-2.82],[-1.51,-3],[-1.65,-3.07],[-1.82,-3.1],[-2.35,-3.31],[-2.33,-3.69],[-2.36,-3.84],[-2.66,-3.3],[-3.08,-3.69],[-2.87,-3.72],[-5.08,-.64],[-5.13,-.51],[-4.55,-.76],[-4.59,-.95],[-4.66,-.51],[-4.62,-.14],[-4.41,-.89],[-4.34,-.95],[-4.43,-1.35],[-5.67,-1.38],[-4.48,.42],[-4.06,.45],[-4.01,.24],[-3.92,.39],
[.94,1.34],[1.01,1.44],[1.16,1.17],[1.39,.11],[1.35,-.07],[1.46,-.14],[1.52,-.26],[1.24,-.29],[1.31,-.36],[2.1,-.26],[2.19,-.45],[2.27,-.33],[2.23,-.01],[2.08,-.08],[2.91,-.2],[2.96,-.39],[2.98,-.57],[2.91,-.57],[2.7,-.76],[2.74,-.95],[2.66,-1.04],[1.5,-2.75],[1.57,-2.88],[1.46,-3.07],[1.59,-3],[1.89,-2.82],[1.99,-2.94],[1.95,-3.1],[2.04,-3.25],[1.95,-3.32],[2.55,-3.07],[2.62,-2.94],[2.92,-2],[3,-1.88],[2.94,-2.19],[3.32,-2.75],[3.34,-2.57],[2.14,-4.13],[2.23,-4.13],[2.31,-4.31],[2.21,-4.31],[2.66,-3.88],[2.7,-4.06],[2.62,-4.31],[1.39,-2.38],[1.39,-2.63],[1.27,-2.75],[1.69,-3],[1.76,-2.94],[1.46,-3.44],[1.84,-3.38],[1.8,-3.63],[2.02,-3.56],[2.46,-3.38],[2.55,-3.32],[3.07,-3.25],[3.11,-3.5],[3.36,-3.63],[3.3,-3.88],[2.85,-3],[3.04,-3.07],[2.59,-2.69],[2.36,-2.82],[2.66,-2.01],[2.51,-1.94],[2.46,-2.13],[2.66,-1.7],[2.89,-1.7],[3.41,-2.2],[3.19,-2.19],[1.69,-1.82],[1.8,-1.7],[1.65,-1.57],[1.31,-.89],[1.39,-1.01],[1.24,-1.2],[.94,-1.76],[.9,-2],[1,-1.94],[1.2,-1.57],[1.16,-1.88],[1.31,.24],[1.16,.55],[1.46,.23],[1.61,.3],[.94,.86],[1.01,.67],[2.21,.36],[2.89,.05],[3.07,-.01],[3.26,-.01],[.21,-.36],[.24,-.14],[-.38,.49],[-.41,.36],[-.34,.3],
[1.15,-2.3],[1.2,-2.62],[1.34,-3.1],[1.63,-2.62],[1.78,-2.85],[1.9,-3.22],[2.12,-3.02],[2.2,-2.9],[2.3,-3.22],[2.52,-2.78],[2.7,-3.15],[2.78,-3.55],[2.9,-3.2],[2.95,-2.72],[3.15,-2.7],[3.25,-3.1],[3.42,-3.3],[3.55,-3.5],[3.2,-2.3],[3.05,-2.35],[2.85,-2.2],[2.52,-2.3],[2.35,-2.1],[2.05,-1.8],[1.9,-1.6],[1.48,-1.55],[1.38,-1.3],[1.5,-1.25],[1.15,-1.05],[1.05,-.8],[1.55,-.35],[1.7,-.2],[1.9,-.25],[2.15,-.7],[2.4,-.75],[2.6,-1.25],[2.9,-.85],[3.1,-.75],[3.3,-.8],[3.5,-1.3],[3.15,-1.3],[-.95,.3],[-.9,.45],[-3.65,-.45],[-3.6,-1],[-3.25,-.75],[-2.6,-.7],[-4.2,-1.9],[-3.65,-1.9],[-3.2,-2.15],[-3.45,-2.3]];

var fontName = '"Liberation Sans", Arial, sans-serif';
var textColor = '#262626';
var circleSize = 16.5;
var triangleSize = [21, 18];
var triangleIcon = 'path://M0,17 L10,0 L20,17 Z';

function scatterSeries(name, data, symbol, size, color) {
    return {
        name: name,
        type: 'scatter',
        data: data,
        symbol: symbol,
        symbolSize: size,
        itemStyle: {color: color, opacity: 1},
        silent: true
    };
}

// filled outline for the part of a cloud where the markers merge into one solid area
function coreSeries(outline, color) {
    return {
        name: 'core',
        type: 'custom',
        coordinateSystem: 'cartesian2d',
        data: [[0, 0]],
        silent: true,
        renderItem: function (params, api) {
            return {
                type: 'polygon',
                shape: {points: outline.map(function (p) { return api.coord(p); })},
                style: {fill: color}
            };
        }
    };
}

var myChart = echarts.init(document.getElementById('main'));
var option = {
    animation: false,
    backgroundColor: '#fff',
    textStyle: {fontFamily: fontName},
    title: {
        text: 'UMAP projection of image datasets',
        left: 1884,
        top: 12,
        textAlign: 'center',
        textStyle: {fontFamily: fontName, fontSize: 78.3, fontWeight: 'bold', color: '#000'}
    },
    legend: {
        left: 425,
        top: 138,
        orient: 'vertical',
        padding: [8, 17, 5, 53],
        itemWidth: 114,
        itemHeight: 17,
        itemGap: 9,
        borderColor: textColor,
        borderWidth: 2,
        backgroundColor: '#fff',
        selectedMode: false,
        formatter: '{t|{name}}',
        textStyle: {
            rich: {
                t: {fontFamily: fontName, fontSize: 64, lineHeight: 73, padding: [12, 0, 0, 0], color: '#000'}
            }
        },
        data: [
            {name: legendNames[0], icon: 'circle'},
            {name: legendNames[1], icon: 'circle'},
            {name: legendNames[2], icon: 'circle'},
            {name: legendNames[3], icon: triangleIcon},
            {name: legendNames[4], icon: triangleIcon},
            {name: legendNames[5], icon: triangleIcon}
        ]
    },
    grid: {left: 293.5, right: 0, top: 109.5, bottom: 229, outerBoundsMode: 'none'},
    xAxis: {
        type: 'value',
        min: -15,
        max: 9.67,
        interval: 5,
        splitLine: {show: false},
        axisLine: {onZero: false, lineStyle: {color: textColor, width: 2.5}},
        axisTick: {inside: true, length: 32, customValues: xTicks, lineStyle: {color: textColor, width: 2}},
        axisLabel: {customValues: xTicks, margin: 40, fontSize: 68, fontFamily: fontName, color: textColor},
        name: '{a|UMAP}{b|1}',
        nameLocation: 'middle',
        nameGap: 137,
        nameTextStyle: {
            padding: [0, 0, 0, 32],
            rich: {
                a: {fontFamily: fontName, fontSize: 76, color: textColor, lineHeight: 70, verticalAlign: 'top'},
                b: {fontFamily: fontName, fontSize: 60, color: textColor, lineHeight: 107, verticalAlign: 'bottom'}
            }
        }
    },
    yAxis: {
        type: 'value',
        min: -15,
        max: 15,
        interval: 5,
        splitLine: {show: false},
        axisLine: {onZero: false, lineStyle: {color: textColor, width: 2}},
        axisTick: {inside: true, length: 32, customValues: yTicks, lineStyle: {color: textColor, width: 2}},
        axisLabel: {customValues: yTicks, margin: 26, fontSize: 68, fontFamily: fontName, color: textColor},
        name: '{a|UMAP}{b|2}',
        nameLocation: 'middle',
        nameGap: 138,
        nameTextStyle: {
            rich: {
                a: {fontFamily: fontName, fontSize: 76, color: textColor, lineHeight: 70, verticalAlign: 'top'},
                b: {fontFamily: fontName, fontSize: 60, color: textColor, lineHeight: 113, verticalAlign: 'bottom'}
            }
        }
    },
    series: [
        scatterSeries(legendNames[0], covidxCovid, 'circle', circleSize, '#A2142F'),
        coreSeries(greenCore, '#77AC30'),
        scatterSeries(legendNames[1], covidxPneumonia, 'circle', circleSize, '#77AC30'),
        coreSeries(blueCoreLeft, '#0000FF'),
        coreSeries(blueCoreRight, '#0000FF'),
        scatterSeries(legendNames[2], covidxZdrowy, 'circle', circleSize, '#0000FF'),
        scatterSeries(legendNames[3], polCovid, 'triangle', triangleSize, '#FF0000'),
        scatterSeries(legendNames[4], polPneumonia, 'triangle', triangleSize, '#00FF00'),
        scatterSeries(legendNames[5], polZdrowy, 'triangle', triangleSize, '#1199FF'),
        scatterSeries(legendNames[0], covidxCovidTop, 'circle', circleSize, '#A2142F')
    ]
};
myChart.setOption(option);
</script>
</body>
</html>
